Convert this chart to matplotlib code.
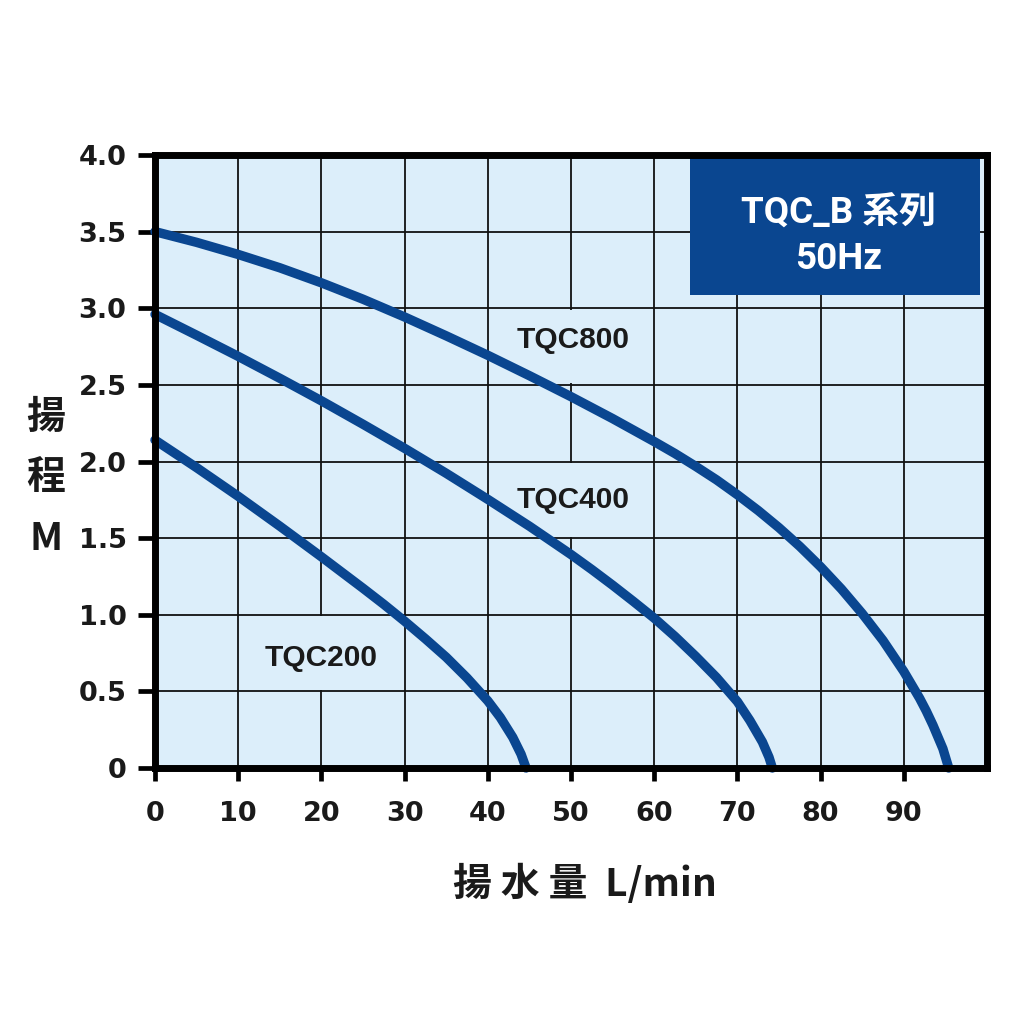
import matplotlib
matplotlib.use("Agg")
import matplotlib.pyplot as plt
from matplotlib.patches import Rectangle

# ---- data ----
tqc800_x = [0, 5, 10, 15, 20, 25, 30, 35, 40, 45, 50, 55, 60, 62.5, 65, 67.5, 70, 72.5, 75,
            77.5, 80, 82.5, 85, 87.5, 90, 91.9, 92.7, 93.5, 94.7, 95.4]
tqc800_y = [3.500, 3.430, 3.351, 3.264, 3.166, 3.059, 2.943, 2.820, 2.693, 2.560, 2.423, 2.280,
            2.130, 2.052, 1.968, 1.880, 1.783, 1.680, 1.568, 1.446, 1.313, 1.168, 1.008, 0.832,
            0.630, 0.455, 0.372, 0.280, 0.126, 0.0]
tqc400_x = [0, 5, 10, 15, 20, 25, 30, 35, 40, 45, 50, 52.5, 55, 57.5, 60, 62.5, 65, 67.5, 70,
            71.5, 73, 73.8, 74.2]
tqc400_y = [2.960, 2.824, 2.686, 2.543, 2.396, 2.243, 2.086, 1.923, 1.753, 1.578, 1.393, 1.295,
            1.193, 1.087, 0.978, 0.858, 0.728, 0.590, 0.433, 0.310, 0.170, 0.070, 0.0]
tqc200_x = [0, 5, 10, 15, 20, 25, 27.5, 30, 32.5, 35, 37.5, 40, 41.5, 43, 44, 44.6]
tqc200_y = [2.140, 1.960, 1.773, 1.578, 1.378, 1.173, 1.068, 0.958, 0.843, 0.723, 0.588, 0.438,
            0.330, 0.200, 0.090, 0.0]

series_names = ["TQC800", "TQC400", "TQC200"]
label_x = [50.3, 50.3, 20.0]
label_y = [2.79, 1.75, 0.72]
label_cell_rows = [(2.5, 3.0), (1.5, 2.0), (0.5, 1.0)]
label_cell_cols = [50, 50, 20]

x_ticks = [0, 10, 20, 30, 40, 50, 60, 70, 80, 90]
y_ticks = [0, 0.5, 1.0, 1.5, 2.0, 2.5, 3.0, 3.5, 4.0]
y_tick_labels = ["0", "0.5", "1.0", "1.5", "2.0", "2.5", "3.0", "3.5", "4.0"]

title_lines = ["TQC_B 系列", "50Hz"]
x_label = "揚 水 量  L/min"
y_label_chars = ["揚", "程", "M"]

BG = "#DCEEFA"
LINE = "#0A4690"
BOX = "#0A4690"
TXT = "#1a1a1a"
FONTS = ["Roboto", "Noto Sans CJK JP", "DejaVu Sans"]
CJK = ["Noto Sans CJK JP", "DejaVu Sans"]
plt.rcParams["font.family"] = FONTS

fig = plt.figure(figsize=(10.24, 10.24), dpi=100)
ax = fig.add_axes([155/1024, 1-768/1024, (987-155)/1024, (768-155)/1024])
ax.set_facecolor(BG)
ax.set_xlim(0, 100)
ax.set_ylim(0, 4)

ax.set_xticks(x_ticks)
ax.set_yticks(y_ticks)
ax.set_yticklabels(y_tick_labels)
ax.tick_params(axis="both", direction="out", width=3.4, color="black",
               labelsize=19.5, labelcolor=TXT)
ax.tick_params(axis="y", length=12.5, pad=8)
ax.tick_params(axis="x", length=9.5, pad=14)
for lab in ax.get_xticklabels() + ax.get_yticklabels():
    lab.set_fontweight("bold")
    lab.set_family(["DejaVu Sans"])

ax.grid(True, color="#111111", linewidth=1.3, zorder=1)
ax.set_axisbelow(True)
for sp in ax.spines.values():
    sp.set_linewidth(5)
    sp.set_color("black")
    sp.set_zorder(6)

# cover gridline segments behind series labels
for cx, (r0, r1) in zip(label_cell_cols, label_cell_rows):
    ax.add_patch(Rectangle((cx - 0.5, r0 + 0.01), 1.0, (r1 - r0) - 0.02,
                           facecolor=BG, edgecolor="none", zorder=1.5))

for xs, ys in [(tqc800_x, tqc800_y), (tqc400_x, tqc400_y), (tqc200_x, tqc200_y)]:
    ax.plot(xs, ys, color=LINE, linewidth=6.8, solid_capstyle="round",
            solid_joinstyle="round", zorder=3, clip_on=False)

for name, lx, ly in zip(series_names, label_x, label_y):
    ax.text(lx, ly, name, fontsize=21.5, fontweight="bold", color=TXT,
            ha="center", va="center", zorder=4,
            family=["Liberation Sans", "DejaVu Sans"])

# title box
ax.add_patch(Rectangle((0.643, 0.772), 0.349, 0.223, transform=ax.transAxes,
                       facecolor=BOX, edgecolor="none", zorder=5))
ax.text(0.821, 0.905, title_lines[0], transform=ax.transAxes, fontsize=26.5,
        fontweight="bold", color="white", ha="center", va="center", zorder=6)
ax.text(0.821, 0.830, title_lines[1], transform=ax.transAxes, fontsize=26.5,
        fontweight="bold", color="white", ha="center", va="center", zorder=6)

# axis labels
fig.text(585/1024, 1-884/1024, x_label, fontsize=28, fontweight="bold",
         color=TXT, ha="center", va="center", family=CJK)
for ch, py in zip(y_label_chars, [417, 478, 538]):
    fig.text(46/1024, 1-py/1024, ch, fontsize=28, fontweight="bold",
             color=TXT, ha="center", va="center", family=CJK)

fig.savefig("out.png", dpi=100, facecolor="white")
